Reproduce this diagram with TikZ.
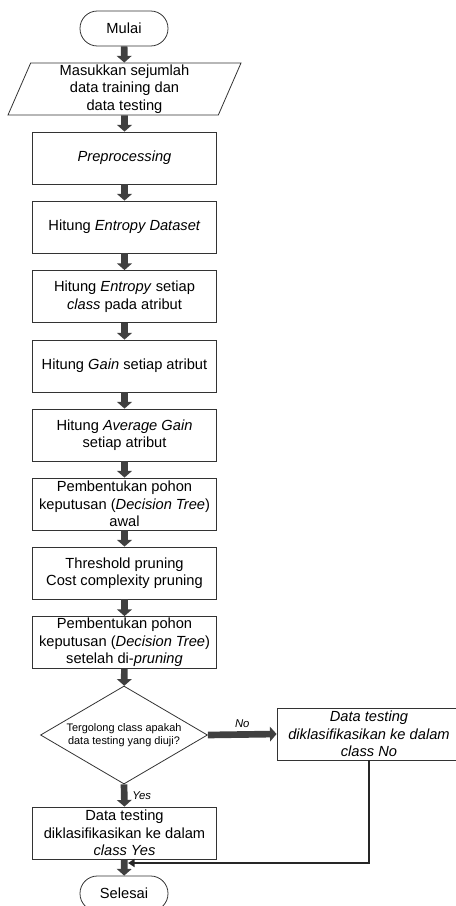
\documentclass[tikz,border=0pt]{standalone}
\usepackage{fontspec}
\setmainfont{Liberation Sans}
\usetikzlibrary{shapes.geometric,arrows.meta}

\begin{document}
\begin{tikzpicture}[x=0.75pt,y=-0.75pt,
  kotak/.style={draw=black!80, line width=0.6pt, minimum width=138pt, minimum height=39pt,
    inner sep=0pt, align=center, font=\fontsize{11}{13.1}\selectfont},
  ujung/.style={draw=black!80, line width=0.6pt, rounded corners=13pt, minimum width=66pt,
    minimum height=26.25pt, font=\fontsize{11}{13.1}\selectfont},
  masuk/.style={draw=black!80, line width=0.6pt, trapezium, trapezium left angle=65,
    trapezium right angle=115, trapezium stretches body, minimum width=174.75pt,
    minimum height=39pt, inner sep=0pt, align=center, font=\fontsize{11}{13.1}\selectfont},
  putusan/.style={draw=black!80, line width=0.6pt, diamond, aspect=1.7, inner sep=0pt,
    minimum width=125.25pt, minimum height=73.5pt, align=center, font=\fontsize{8.2}{10}\selectfont},
  panah/.style={draw=black!75, line width=5pt, -{Triangle[width=11pt,length=5pt]}},
  balik/.style={draw=black!85, line width=2pt, -{Triangle[width=6pt,length=5pt]}},
  ket/.style={inner sep=0pt, font=\fontsize{8.5}{10}\selectfont\itshape}]
  \useasboundingbox (0,0) rectangle (456,906);

  \node[ujung] (mulai) at (124,28.5) {Mulai};
  \node[masuk] (masukan) at (124.5,89) {Masukkan sejumlah\\data training dan\\data testing};
  \node[kotak] (prepro) at (124.5,158) {\itshape Preprocessing};
  \node[kotak] (entdata) at (124.5,227) {Hitung \textit{Entropy Dataset}};
  \node[kotak] (entkelas) at (124.5,296.5) {Hitung \textit{Entropy} setiap\\\textit{class} pada atribut};
  \node[kotak] (gain) at (124.5,366) {Hitung \textit{Gain} setiap atribut};
  \node[kotak] (avgain) at (124.5,435) {Hitung \textit{Average Gain}\\setiap atribut};
  \node[kotak] (pohonawal) at (124.5,504) {Pembentukan pohon\\keputusan (\textit{Decision Tree})\\awal};
  \node[kotak] (pruning) at (124.5,573) {Threshold pruning\\Cost complexity pruning};
  \node[kotak] (pohonakhir) at (124.5,642.5) {Pembentukan pohon\\keputusan (\textit{Decision Tree})\\setelah di-\textit{pruning}};
  \node[putusan] (tanya) at (124,735) {Tergolong class apakah\\data testing yang diuji?};
  \node[kotak] (tidak) at (369,734) {\itshape Data testing\\\itshape diklasifikasikan ke dalam\\\itshape class No};
  \node[kotak] (ya) at (124.5,833) {Data testing\\diklasifikasikan ke dalam\\\textit{class Yes}};
  \node[ujung] (selesai) at (124,893.5) {Selesai};
  \coordinate (temu) at (128,863);

  \draw[panah] (mulai) -- (masukan);
  \draw[panah] (masukan) -- (prepro);
  \draw[panah] (prepro) -- (entdata);
  \draw[panah] (entdata) -- (entkelas);
  \draw[panah] (entkelas) -- (gain);
  \draw[panah] (gain) -- (avgain);
  \draw[panah] (avgain) -- (pohonawal);
  \draw[panah] (pohonawal) -- (pruning);
  \draw[panah] (pruning) -- (pohonakhir);
  \draw[panah] (pohonakhir) -- (tanya);
  \draw[panah] (tanya.east) -- node[ket, above=3pt] (labelno) {No} (tidak.west);
  \draw[panah] (tanya.south) -- node[ket, right=3.5pt] (labelyes) {Yes} (ya.north);
  \draw[panah] (ya) -- (selesai);
  \draw[balik] (tidak.south) |- (temu);
\end{tikzpicture}
\end{document}
